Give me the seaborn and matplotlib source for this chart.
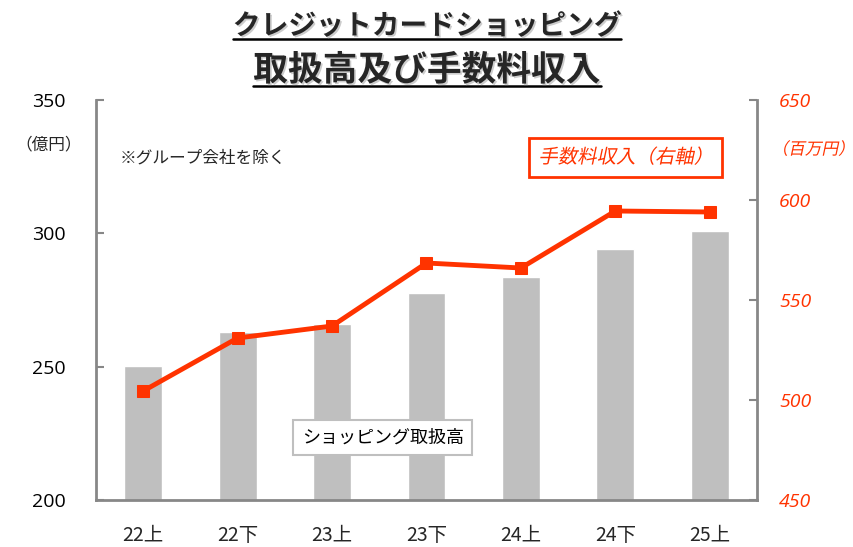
import matplotlib
matplotlib.use('Agg')
import matplotlib.pyplot as plt
import matplotlib.patheffects as pe
import seaborn as sns
from matplotlib.lines import Line2D
from matplotlib.ticker import FixedLocator
from matplotlib.transforms import Affine2D

categories = ['22上', '22下', '23上', '23下', '24上', '24下', '25上']
shopping = [250.2, 263.0, 266.0, 277.6, 283.6, 294.3, 301.0]   # 億円 (left axis)
fee_income = [504.5, 531.0, 537.0, 568.5, 566.0, 594.5, 594.0]  # 百万円 (right axis)

left_ticks = [200, 250, 300, 350]
right_ticks = [450, 500, 550, 600, 650]

sns.set_style('white')
plt.rcParams['font.family'] = ['Noto Sans CJK JP', 'DejaVu Sans']

RED = '#FF3300'
GRAY_BAR = '#BFBFBF'
SPINE = '#878787'
NUM_FONT = ['Open Sans', 'DejaVu Sans']


class Slant(pe.AbstractPathEffect):
    # fake italic for CJK text: shear glyph paths about the text origin
    def __init__(self, deg=12):
        super().__init__()
        self.deg = deg

    def draw_path(self, renderer, gc, tpath, affine, rgbFace=None):
        ox, oy = affine.transform((0, 0))
        sk = Affine2D().translate(-ox, -oy).skew_deg(self.deg, 0).translate(ox, oy)
        renderer.draw_path(gc, tpath, affine + sk, rgbFace)


fig = plt.figure(figsize=(8.54, 5.47), dpi=100)
ax = fig.add_axes([0.1124, 0.0859, 0.774, 0.7313])

sns.barplot(x=categories, y=shopping, color=GRAY_BAR, width=0.4, ax=ax, saturation=1)
ax.set_ylim(200, 350)
ax.set_xlim(-0.5, len(categories) - 0.5)
ax.set_yticks(left_ticks)
ax.tick_params(axis='y', direction='in', length=6, width=1.5, color=SPINE,
               labelsize=14, pad=22, labelcolor='black')
for lab in ax.get_yticklabels():
    lab.set_family(NUM_FONT)
ax.tick_params(axis='x', which='major', length=0, labelsize=14, pad=18)
ax.xaxis.set_minor_locator(FixedLocator([i + 0.5 for i in range(len(categories) - 1)]))
ax.tick_params(axis='x', which='minor', direction='in', length=6, width=1.5, color=SPINE)
for s in ['left', 'bottom']:
    ax.spines[s].set_color(SPINE)
    ax.spines[s].set_linewidth(2)
ax.spines['top'].set_visible(False)
ax.spines['right'].set_visible(False)
ax.set_xlabel('')
ax.set_ylabel('')

ax2 = ax.twinx()
sns.lineplot(x=categories, y=fee_income, sort=False, color=RED, linewidth=3.5,
             marker='s', markersize=9, markeredgecolor=RED, ax=ax2)
ax2.set_ylim(450, 650)
ax2.set_yticks(right_ticks)
ax2.tick_params(axis='y', direction='in', length=6, width=1.5, color=SPINE,
                labelsize=14, pad=16, labelcolor=RED)
for lab in ax2.get_yticklabels():
    lab.set_family(NUM_FONT)
    lab.set_fontstyle('italic')
ax2.spines['right'].set_color(SPINE)
ax2.spines['right'].set_linewidth(2)
for s in ['top', 'left', 'bottom']:
    ax2.spines[s].set_visible(False)
ax2.set_ylabel('')
ax2.set_xlabel('')

# unit labels and notes
fig.text(0.057, 0.735, '（億円）', fontsize=12, ha='center', va='center')
fig.text(0.952, 0.726, '（百万円）', fontsize=12, ha='center', va='center',
         color=RED, path_effects=[Slant()])
fig.text(0.14, 0.712, '※グループ会社を除く', fontsize=12, ha='left', va='center')

# legend-like boxes
fig.text(0.733, 0.712, '手数料収入（右軸）', fontsize=14, ha='center', va='center',
         color=RED, path_effects=[Slant()],
         bbox=dict(boxstyle='square,pad=0.45', fc='white', ec=RED, lw=2))
fig.text(0.448, 0.2, 'ショッピング取扱高', fontsize=13, ha='center', va='center',
         color='black',
         bbox=dict(boxstyle='square,pad=0.45', fc='white', ec='#BFBFBF', lw=1.5))

# title with shadow and underline
shadow = [pe.SimplePatchShadow(offset=(1.2, -1.2), shadow_rgbFace='#aaaaaa', alpha=0.6),
          pe.Normal()]
t1 = fig.text(0.5, 0.952, 'クレジットカードショッピング', fontsize=20, fontweight='semibold',
              ha='center', va='center', path_effects=shadow)
t2 = fig.text(0.5, 0.872, '取扱高及び手数料収入', fontsize=25, fontweight='semibold',
              ha='center', va='center', path_effects=shadow)
fig.canvas.draw()
inv = fig.transFigure.inverted()
for t in (t1, t2):
    bb = t.get_window_extent().transformed(inv)
    fig.add_artist(Line2D([bb.x0, bb.x1], [bb.y0 + 0.003, bb.y0 + 0.003],
                          transform=fig.transFigure, color='black', lw=1.8,
                          path_effects=shadow))

fig.savefig('out.png', dpi=100)
